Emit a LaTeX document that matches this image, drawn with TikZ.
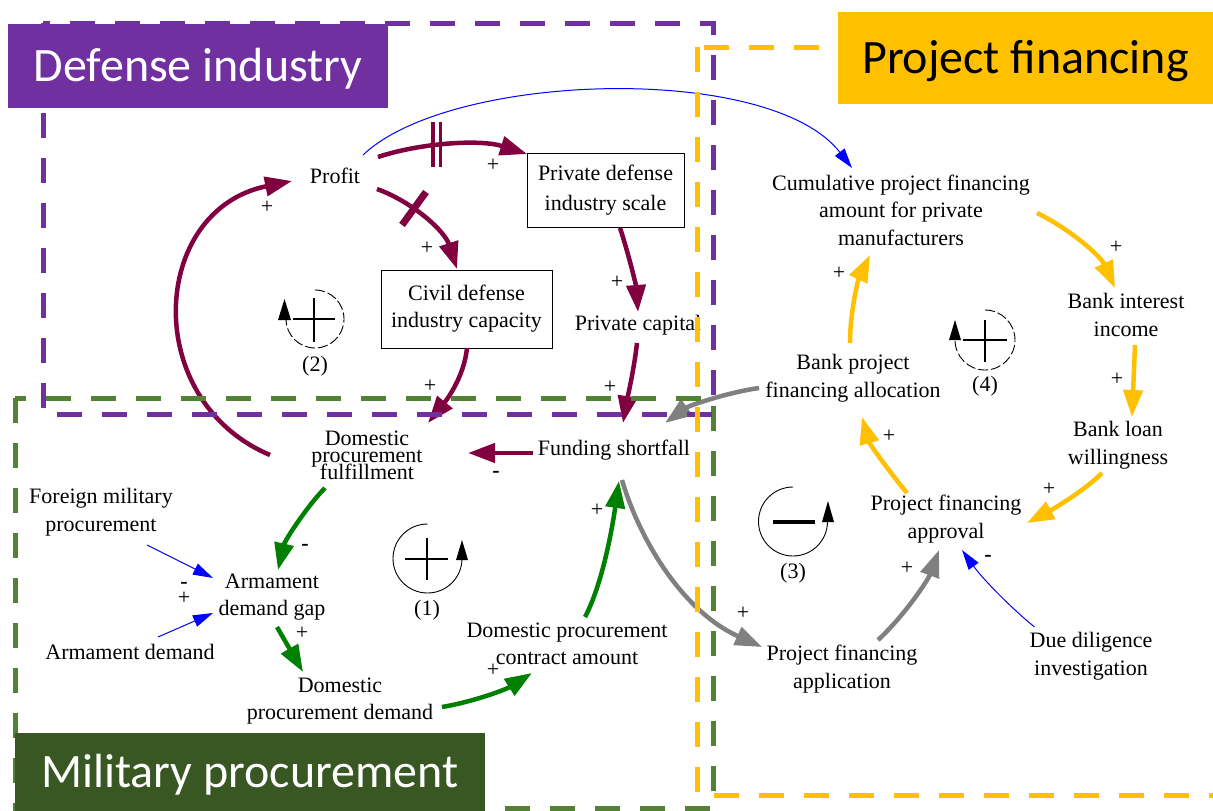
\documentclass[tikz,border=0pt]{standalone}
\usepackage{fontspec}
\setmainfont{Liberation Serif}
\newfontfamily\serifvar{Liberation Serif}
\newfontfamily\labelfont{Carlito}
\usetikzlibrary{arrows.meta}
\definecolor{dipurple}{HTML}{7030A0}
\definecolor{pfyellow}{HTML}{FFC000}
\definecolor{mpgreen}{HTML}{548235}
\definecolor{mpdark}{HTML}{385723}
\definecolor{mar}{RGB}{128,0,64}
\definecolor{agreen}{HTML}{008000}
\definecolor{agray}{HTML}{808080}
\definecolor{ablue}{HTML}{0000FF}
\newcommand\tightfont{\serifvar\fontsize{22}{17}\selectfont\lineskiplimit=-50pt\relax}
\tikzset{
  var/.style={font=\serifvar\fontsize{22}{27.5}\selectfont, align=center, inner sep=1pt},
  boxvar/.style={var, draw, line width=1pt, inner sep=0pt},
  sign/.style={font=\serifvar\fontsize{22}{22}\selectfont, inner sep=0pt},
  neg/.style={font=\serifvar\bfseries\fontsize{22}{22}\selectfont, inner sep=0pt},
  fat/.style={line width=4.5pt, -{Triangle[length=27pt,width=19pt]}},
  marr/.style={fat, draw=mar},
  garr/.style={fat, draw=agreen},
  grarr/.style={fat, draw=agray},
  yarr/.style={fat, draw=pfyellow},
  barr/.style={line width=1pt, draw=ablue, -{Triangle[length=20pt,width=12pt]}},
  frame/.style={line width=5pt, dash pattern=on 25pt off 20pt},
  title/.style={font=\labelfont\fontsize{48}{48}\selectfont, inner sep=0pt, text height=31pt, text depth=0pt},
  loopline/.style={line width=0.9pt},
  loopsign/.style={line width=2.5pt},
  looplabel/.style={font=\serifvar\fontsize{22}{22}\selectfont, inner sep=0pt},
}
\begin{document}
\begin{tikzpicture}[x=1pt,y=-1pt]
\useasboundingbox (0,0) rectangle (1213,811);
\fill[white] (0,0) rectangle (1213,811);

% variables
\node[var] (profit) at (335,176) {Profit};
\node[boxvar, minimum width=157pt, minimum height=74pt, font=\serifvar\fontsize{22}{30}\selectfont] (scale) at (605.5,190) {Private defense\\industry scale};
\node[boxvar, minimum width=171pt, minimum height=78pt, font=\serifvar\fontsize{22}{27}\selectfont] (civil) at (466.5,309) {Civil defense\\industry capacity};
\node[var] (capital) at (638,325) {Private capital};
\node[var, font=\tightfont] (fulfil) at (367,455) {Domestic\\procurement\\fulfillment};
\node[var] (shortfall) at (614,450) {Funding shortfall};
\node[var] (foreign) at (101,512) {Foreign military\\procurement};
\node[var] (gap) at (272,597) {Armament\\demand gap};
\node[var] (armdem) at (130,652) {Armament demand};
\node[var] (domdem) at (340,701) {Domestic\\procurement demand};
\node[var] (contract) at (567,644) {Domestic procurement\\contract amount};
\node[var] (cumul) at (901,210) {Cumulative project financing\\amount for private\\manufacturers};
\node[var] (interest) at (1126,315) {Bank interest\\income};
\node[var] (willing) at (1118,445) {Bank loan\\willingness};
\node[var] (approval) at (946,519) {Project financing\\approval};
\node[var] (allocation) at (853,378) {Bank project\\financing allocation};
\node[var] (application) at (842,669) {Project financing\\application};
\node[var] (diligence) at (1091,656) {Due diligence\\investigation};

% maroon links
\draw[marr] ([shift={(43,-19)}]profit.center) .. controls (420,143) and (480,139) .. ([shift={(-78.5,-36)}]scale.center);
\draw[marr] ([shift={(42,13)}]profit.center) .. controls (415,203) and (445,232) .. ([shift={(-9.5,-40)}]civil.center);
\draw[marr] ([shift={(14.5,38)}]scale.center) .. controls (628,252) and (636,285) .. ([shift={(0,-13)}]capital.center);
\draw[marr] ([shift={(0.5,39)}]civil.center) .. controls (464,378) and (445,402) .. ([shift={(61,-32)}]fulfil.center);
\draw[marr] ([shift={(-1,18)}]capital.center) .. controls (634,370) and (627,400) .. ([shift={(9,-27)}]shortfall.center);
\draw[marr] ([shift={(-81,3)}]shortfall.center) -- ([shift={(101,-2)}]fulfil.center);
\draw[marr] ([shift={(-97,0)}]fulfil.center) .. controls (140,400) and (150,210) .. ([shift={(-43,5)}]profit.center);
% delay marks
\draw[mar, line width=3.2pt] (433,122) -- (433,167);
\draw[mar, line width=3.2pt] (440.5,122) -- (440.5,167);
\draw[mar, line width=7pt] (402,225) -- (426,192);

% green links
\draw[garr] ([shift={(-42,33)}]fulfil.center) .. controls (308,505) and (285,540) .. ([shift={(6,-27)}]gap.center);
\draw[garr] ([shift={(5,30)}]gap.center) -- ([shift={(-37,-29)}]domdem.center);
\draw[garr] ([shift={(102,6)}]domdem.center) .. controls (472,702) and (505,690) .. ([shift={(-35,29)}]contract.center);
\draw[garr] ([shift={(18,-27)}]contract.center) .. controls (602,585) and (612,530) .. ([shift={(5,31)}]shortfall.center);

% blue links
\draw[barr] ([shift={(46,33)}]foreign.center) -- ([shift={(-59,-19)}]gap.center);
\draw[barr] ([shift={(28,-15)}]armdem.center) -- ([shift={(-59,16)}]gap.center);
\draw[barr] ([shift={(28,-21)}]profit.center) .. controls (450,72) and (770,62) .. ([shift={(-49,-42)}]cumul.center);
\draw[barr] ([shift={(-56.5,-29)}]diligence.center) .. controls (1010,607) and (982,578) .. ([shift={(16,31)}]approval.center);

% gray links
\draw[grarr] ([shift={(8,30)}]shortfall.center) .. controls (638,535) and (680,610) .. ([shift={(-80,-22)}]application.center);
\draw[grarr] ([shift={(36,-29)}]application.center) .. controls (905,615) and (928,580) .. ([shift={(-7,31)}]approval.center);
\draw[grarr] ([shift={(-94,10)}]allocation.center) .. controls (730,392) and (690,405) .. ([shift={(51,-27)}]shortfall.center);

% yellow links
\draw[yarr] ([shift={(136,3)}]cumul.center) .. controls (1068,228) and (1100,255) .. ([shift={(-11,-27)}]interest.center);
\draw[yarr] ([shift={(9,30)}]interest.center) -- ([shift={(14,-28)}]willing.center);
\draw[yarr] ([shift={(-16,28)}]willing.center) .. controls (1085,490) and (1055,508) .. ([shift={(81,4)}]approval.center);
\draw[yarr] ([shift={(-39,-26)}]approval.center) .. controls (892,475) and (870,445) .. ([shift={(9,39)}]allocation.center);
\draw[yarr] ([shift={(-3,-35)}]allocation.center) .. controls (850,312) and (858,280) .. ([shift={(-31,45)}]cumul.center);

% polarity signs
\node[sign] (s1) at (267,207) {+};
\node[sign] (s2) at (493,165) {+};
\node[sign] (s3) at (427,248) {+};
\node[sign] (s4) at (617,282) {+};
\node[sign] (s5) at (430,386) {+};
\node[sign] (s6) at (610,387) {+};
\node[neg] (s7) at (496,474) {-};
\node[neg] (s8) at (305,547) {-};
\node[sign] (s9) at (302,633) {+};
\node[neg] (s10) at (184,585) {-};
\node[sign] (s11) at (184,598) {+};
\node[sign] (s12) at (493,670) {+};
\node[sign] (s13) at (597,510) {+};
\node[sign] (s14) at (743,613) {+};
\node[sign] (s15) at (907,568) {+};
\node[neg] (s16) at (988,558) {-};
\node[sign] (s17) at (1049,489) {+};
\node[sign] (s18) at (889,436) {+};
\node[sign] (s19) at (1116,247) {+};
\node[sign] (s20) at (1117,379) {+};
\node[sign] (s21) at (839,273) {+};

% loop (1)
\draw[loopline] (427.5,524) arc[start angle=270, end angle=0, radius=34.5];
\fill (456,560) -- (468,560) -- (462,540) -- cycle;
\draw[loopsign] (405,559) -- (448,559) (427,538) -- (427,580);
\node[looplabel] (l1) at (427,610) {(1)};
% loop (2)
\draw[loopline, dash pattern=on 10pt off 3pt] (315,290) arc[start angle=270, end angle=540, radius=29];
\fill (278,320) -- (291,320) -- (284.5,299) -- cycle;
\draw[loopsign] (293,319) -- (335,319) (314,298) -- (314,342);
\node[looplabel] (l2) at (315,366) {(2)};
% loop (3)
\draw[loopline] (793,487) arc[start angle=270, end angle=0, radius=34.5];
\fill (822,522) -- (834,522) -- (828,501) -- cycle;
\draw[line width=3.5pt] (773,522) -- (815,522);
\node[looplabel] (l3) at (793,573) {(3)};
% loop (4)
\draw[loopline, dash pattern=on 10pt off 3pt] (985,310) arc[start angle=270, end angle=540, radius=30];
\fill (949,340) -- (961,340) -- (955,320) -- cycle;
\draw[loopsign] (963,340) -- (1007,340) (985,320) -- (985,362);
\node[looplabel] (l4) at (985,386) {(4)};

% frames
\draw[frame, mpgreen] (15,398) rectangle (713,808);
\draw[frame, dipurple] (43,23) rectangle (713,414);
\draw[frame, pfyellow] (697,47) rectangle (1225,795);

% titles
\node[title, fill=dipurple, text=white, minimum width=380pt, minimum height=84pt] (tdef) at (198,66) {Defense industry};
\node[title, fill=pfyellow, text=black, minimum width=375pt, minimum height=92pt] (tfin) at (1025.5,58) {Project financing};
\node[title, fill=mpdark, text=white, minimum width=470pt, minimum height=78pt] (tmil) at (250,772) {Military procurement};
\end{tikzpicture}
\end{document}
